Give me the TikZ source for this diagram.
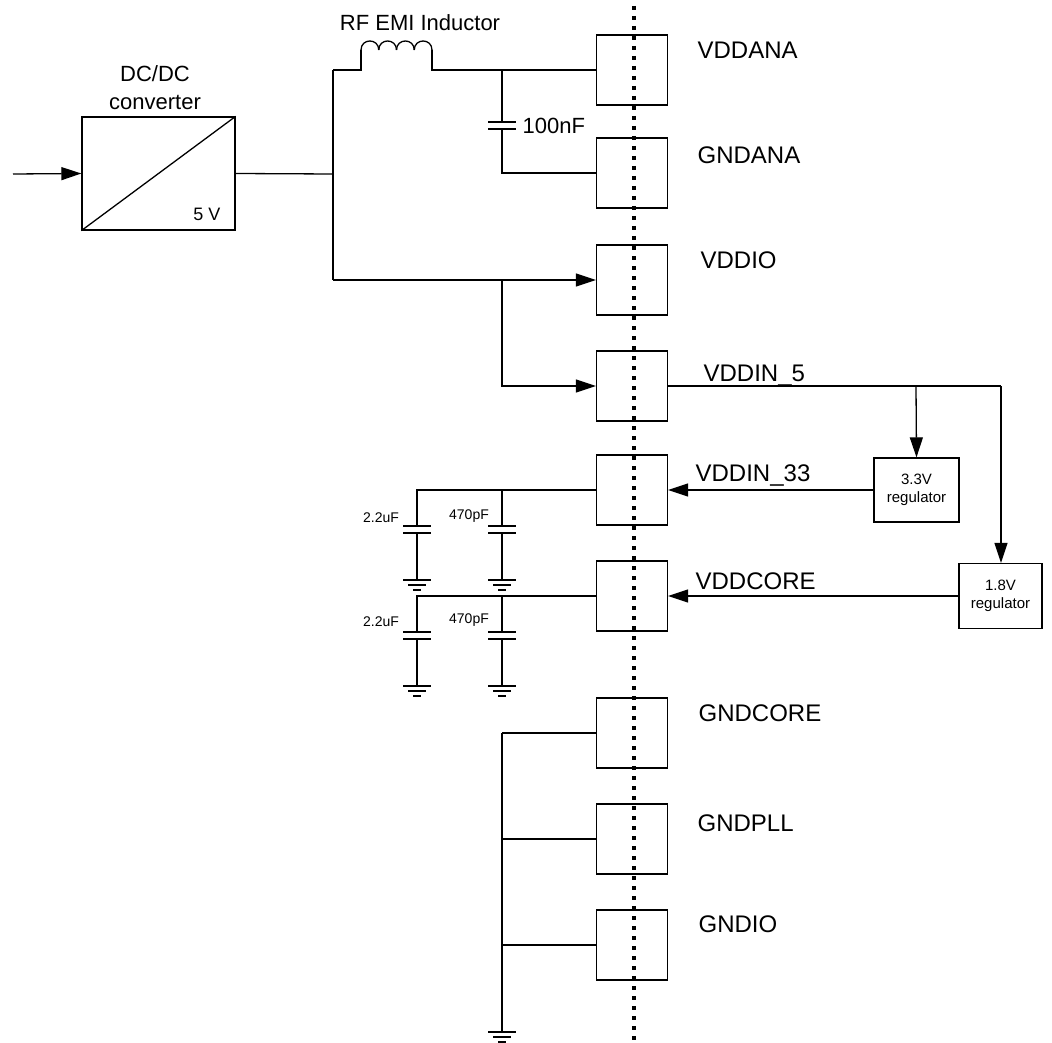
\documentclass[tikz,border=0pt]{standalone}
\usepackage{fontspec}
\setmainfont{Liberation Sans}
\usetikzlibrary{positioning}
\usetikzlibrary{arrows.meta}

\begin{document}
\begin{tikzpicture}[x=1pt, y=-1pt, line width=1.3pt,
        >={Triangle[length=20pt, width=13pt]},
        pin/.style={draw, rectangle, minimum width=71pt, minimum height=70pt, inner sep=0pt},
        regbox/.style={draw, rectangle, align=center, inner sep=0pt, font=\fontsize{15}{18}\selectfont},
        pinlabel/.style={anchor=base west, inner sep=0pt, font=\fontsize{24}{28}\selectfont},
        valuelabel/.style={inner sep=0pt, font=\fontsize{14}{16}\selectfont},
        cap/.pic={\draw (-14,0) -- (14,0) (-14,7) -- (14,7);},
        ground/.pic={\draw (-14,0) -- (14,0) (-9,5) -- (9,5) (-4,10) -- (4,10);}]
        \useasboundingbox (0,0) rectangle (1052,1043);
        % nodes
        \node[draw, rectangle, minimum width=153pt, minimum height=113pt, inner sep=0pt] (conv) at (158.5,173.5) {};
        \draw (conv.south west) -- (conv.north east);
        \node[align=center, inner sep=0pt, font=\fontsize{22}{28}\selectfont] (convlabel) at (155,88) {DC/DC\\converter};
        \node[inner sep=0pt, font=\fontsize{18}{20}\selectfont] (fivev) at (207,214) {5 V};
        \node[inner sep=0pt, font=\fontsize{22}{26}\selectfont] (indlabel) at (420,23) {RF EMI Inductor};
        \foreach \name/\y in {vddana/70, gndana/173, vddio/280, vddinfive/386, vddinthree/490,
                vddcore/596, gndcore/733, gndpll/839, gndio/945}
            \node[pin] (\name) at (632,\y) {};
        \foreach \name/\txt/\x/\y in {vddana/VDDANA/697/59, gndana/GNDANA/697/164, vddio/VDDIO/700/268,
                vddinfive/VDDIN\_5/703/381, vddinthree/VDDIN\_33/695/481, vddcore/VDDCORE/695/589,
                gndcore/GNDCORE/698/721, gndpll/GNDPLL/697/831, gndio/GNDIO/698/932}
            \node[pinlabel] (\name label) at (\x,\y) {\txt};
        \node[regbox, minimum width=85pt, minimum height=64pt] (regthree) at (916.5,490) {3.3V\\regulator};
        \node[regbox, minimum width=83pt, minimum height=65pt] (regone) at (1000.5,596) {1.8V\\regulator};
        % coordinates
        \coordinate (in) at (13,174);
        \coordinate (split) at (333,174);
        \coordinate (ltop) at (333,70);
        \coordinate (lbot) at (333,280);
        \coordinate (capjoin) at (502,70);
        \coordinate (iojoin) at (502,280);
        \coordinate (fivejoin) at (916,386);
        \coordinate (fivecorner) at (1001,386);
        \coordinate (gndjoin) at (502,733);
        \coordinate (gndbot) at (502,1032);
        % converter and inductor
        \draw[->] (in) -- (conv.west);
        \draw (conv.east) -- (split);
        \draw (ltop) -- (lbot);
        \draw (ltop) -- (361,70) -- (361,50);
        \foreach \i in {0,...,3}
            \draw (361+\i*17.75,50) .. controls +(0,-12) and +(0,-12) .. (378.75+\i*17.75,50);
        \draw (432,50) -- (432,70) -- (vddana.west);
        % 100nF
        \draw (capjoin) -- (502,122);
        \pic at (502,122) {cap};
        \draw (502,129) -- (502,173) -- (gndana.west);
        \node[anchor=west, inner sep=0pt, font=\fontsize{22}{26}\selectfont] (hundred) at (522,126) {100nF};
        % arrows
        \draw[->] (lbot) -- (vddio.west);
        \draw[->] (iojoin) |- (vddinfive.west);
        \draw (vddinfive.east) -- (fivecorner);
        \draw[->] (fivejoin) -- (regthree.north);
        \draw[->] (fivecorner) -- (fivecorner |- regone.north);
        \draw[->] (regthree.west) -- (vddinthree.east);
        \draw[->] (regone.west) -- (vddcore.east);
        % decoupling
        \foreach \node/\y in {vddinthree/490, vddcore/596} {
            \draw (\node.west) -- (417,\y) -- (417,\y+36);
            \draw (502,\y) -- (502,\y+36);
            \pic at (417,\y+36) {cap};
            \pic at (502,\y+36) {cap};
            \draw (417,\y+43) -- (417,\y+90);
            \draw (502,\y+43) -- (502,\y+90);
            \pic at (417,\y+90) {ground};
            \pic at (502,\y+90) {ground};
        }
        \node[valuelabel] (twoa) at (381,518) {2.2uF};
        \node[valuelabel] (foura) at (469,516) {470pF};
        \node[valuelabel] (twob) at (381,622) {2.2uF};
        \node[valuelabel] (fourb) at (469,620) {470pF};
        % ground
        \draw (gndjoin) -- (gndbot);
        \draw (gndjoin) -- (gndcore.west);
        \draw (502,839) -- (gndpll.west);
        \draw (502,945) -- (gndio.west);
        \pic at (gndbot) {ground};
        % cut line
        \coordinate (cuttop) at (634,6);
        \coordinate (cutbot) at (634,1043);
        \draw[line width=3.5pt, dash pattern=on 4pt off 6pt] (cuttop) -- (cutbot);
    \end{tikzpicture}
\end{document}
